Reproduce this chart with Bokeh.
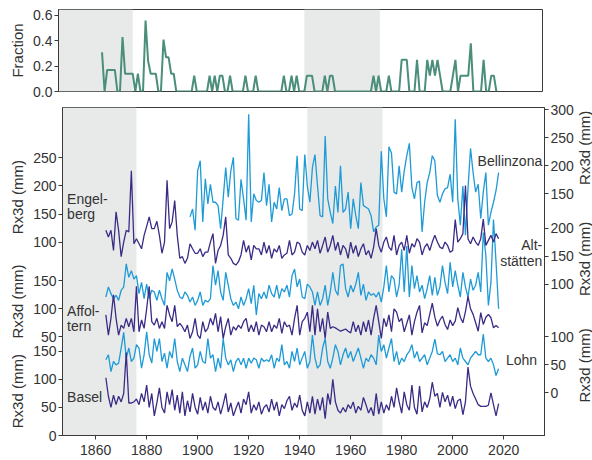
import math
from bokeh.plotting import figure
from bokeh.models import Range1d, LinearAxis, FixedTicker, BoxAnnotation, Label, NumeralTickFormatter
from bokeh.core.properties import value
from bokeh.layouts import column, row
from bokeh.embed import file_html
from bokeh.resources import INLINE

# ---------------- data ----------------
FIRST_YEAR = 1864
BELL_FIRST_YEAR = 1897

fraction = [0.31, 0, 0.17, 0.17, 0.17, 0.17, 0, 0, 0.43, 0.14,
            0.14, 0.14, 0.14, 0, 0.14, 0, 0, 0.56, 0.24, 0.14,
            0.14, 0.14, 0, 0, 0.41, 0.27, 0.27, 0.14, 0.14, 0,
            0, 0, 0, 0, 0, 0, 0.125, 0, 0, 0,
            0, 0, 0.125, 0, 0.125, 0, 0.125, 0.125, 0, 0,
            0.125, 0, 0, 0, 0, 0, 0.125, 0, 0, 0,
            0.125, 0, 0, 0, 0, 0, 0, 0, 0, 0,
            0, 0.125, 0, 0, 0.125, 0, 0.125, 0, 0, 0,
            0.125, 0.125, 0.125, 0, 0, 0, 0, 0.125, 0, 0.125,
            0.125, 0, 0, 0, 0, 0, 0, 0, 0, 0,
            0, 0, 0, 0, 0, 0, 0.125, 0, 0.125, 0,
            0, 0, 0.125, 0, 0, 0, 0, 0.25, 0.25, 0.25,
            0, 0, 0, 0.25, 0, 0, 0, 0.25, 0.125, 0.25,
            0.125, 0.25, 0.125, 0, 0, 0, 0, 0.125, 0.25, 0,
            0.125, 0.125, 0.125, 0.125, 0.38, 0, 0, 0, 0, 0.25,
            0, 0, 0.125, 0.125, 0]

bellinzona = [109, 123, 85, 191, 209, 100, 177, 132, 167, 135,
              135, 129, 88, 141, 197, 144, 191, 215, 106, 103,
              176, 141, 103, 292, 100, 150, 138, 135, 138, 188,
              129, 167, 100, 135, 123, 161, 120, 141, 141, 111,
              114, 150, 218, 123, 120, 220, 164, 135, 197, 220,
              164, 111, 109, 253, 141, 117, 97, 164, 117, 200,
              117, 123, 153, 88, 141, 111, 88, 170, 129, 126,
              123, 111, 82, 91, 94, 226, 141, 109, 234, 223,
              153, 150, 200, 153, 191, 218, 240, 161, 141, 170,
              173, 82, 135, 170, 188, 218, 209, 147, 135, 150,
              159, 161, 185, 135, 283, 141, 94, 164, 76, 159,
              231, 188, 153, 167, 106, 153, 188, 94, 117, 135,
              156, 188]

engelberg = [121, 109, 121, 85, 154, 121, 74, 100, 121, 118,
             227, 97, 106, 97, 88, 112, 128, 145, 124, 124,
             137, 112, 80, 100, 210, 124, 136, 174, 112, 71,
             74, 62, 71, 97, 88, 80, 80, 88, 74, 82,
             82, 100, 115, 62, 85, 94, 112, 145, 77, 71,
             62, 59, 65, 77, 103, 82, 94, 68, 94, 88,
             88, 77, 100, 80, 94, 71, 88, 82, 94, 71,
             77, 80, 103, 77, 82, 100, 97, 82,
             77, 94, 85, 100, 88, 103, 80, 94, 109, 82,
             94, 112, 85, 100, 77, 94, 88, 71, 100, 80,
             94, 74, 88, 97, 77, 85, 71, 91, 124, 94,
             82, 100, 109, 91, 85, 112, 77, 94, 100, 85,
             112, 80, 97, 91, 106, 100, 77, 91, 97, 85,
             100, 112, 100, 91, 88, 100, 94, 82, 85, 140,
             100, 106, 115, 201, 106, 97, 109, 100, 94, 106,
             141, 94, 103, 112, 100, 115, 106]

altstaetten = [77, 95, 83, 74, 80, 71, 89, 95, 136, 112,
               124, 109, 115, 83, 103, 74, 100, 74, 89, 86,
               71, 89, 74, 62, 121, 106, 127, 109, 89, 77,
               74, 86, 80, 68, 77, 62, 71, 86, 62, 71,
               68, 74, 133, 98, 124, 86, 71, 121, 98, 74,
               62, 68, 56, 77, 62, 74, 92, 65, 98, 45,
               83, 74, 86, 74, 98, 83, 77, 98, 74, 92,
               86, 98, 77, 115, 127, 95, 109, 77,
               74, 100, 95, 86, 62, 86, 62, 74, 98, 62,
               86, 121, 89, 80, 133, 136, 92, 77, 98, 86,
               100, 121, 80, 100, 71, 86, 80, 83, 77, 86,
               68, 95, 133, 86, 115, 109, 77, 98, 162, 86,
               168, 77, 133, 92, 115, 86, 98, 74, 92, 115,
               80, 112, 80, 95, 133, 103, 83, 139, 95, 124,
               98, 77, 121, 95, 77, 109, 89, 98, 121, 86,
               192, 151, 62, 103, 215, 139, 56]

affoltern = [89, 53, 83, 125, 83, 53, 71, 65, 83, 68,
             83, 59, 140, 59, 80, 65, 100, 140, 77, 71,
             83, 65, 77, 65, 106, 89, 77, 106, 68, 74,
             68, 59, 71, 47, 59, 83, 53, 47, 77, 59,
             65, 83, 71, 92, 59, 86, 47, 68, 83, 53,
             68, 62, 71, 65, 77, 83, 59, 71, 59, 77,
             53, 71, 68, 59, 77, 59, 71, 65, 83, 56,
             77, 68, 71, 53, 83, 106, 53, 77,
             83, 94, 59, 106, 53, 100, 59, 83, 47, 94,
             65, 68, 66, 63, 60, 62, 64, 60, 57, 77,
             59, 71, 53, 77, 59, 80, 53, 83, 106, 77,
             47, 83, 68, 89, 59, 100, 94, 77, 83, 59,
             74, 89, 53, 77, 94, 106, 57, 75, 70, 90,
             110, 85, 69, 80, 87, 72, 63, 80, 70, 78,
             102, 85, 75, 95, 122, 100, 90, 75, 60, 93,
             72, 85, 90, 84, 66, 70, 66]

lohn = [59, 68, 38, 56, 50, 53, 80, 108, 62, 80,
        56, 62, 86, 80, 44, 68, 109, 68, 53, 97,
        74, 97, 56, 71, 44, 74, 62, 97, 56, 38,
        62, 50, 38, 65, 80, 44, 50, 74, 56, 53,
        97, 62, 68, 38, 62, 44, 97, 62, 50, 59,
        38, 56, 62, 50, 62, 44, 62, 53, 62, 59,
        44, 62, 56, 59, 56, 68, 44, 62, 56, 86,
        50, 56, 44, 74, 56, 80, 50, 62,
        74, 44, 56, 103, 62, 44, 50, 80, 97, 56,
        44, 62, 86, 74, 50, 68, 80, 62, 74, 56,
        68, 80, 62, 44, 62, 56, 68, 62, 50, 103,
        74, 86, 62, 80, 97, 56, 74, 50, 62, 56,
        68, 74, 86, 62, 74, 56, 62, 68, 50, 62,
        74, 96, 70, 68, 74, 56, 62, 68, 56, 62,
        50, 80, 62, 56, 50, 62, 68, 74, 68, 68,
        105, 62, 56, 62, 50, 31, 43]

basel = [103, 70, 50, 72, 55, 70, 60, 75, 148, 58,
         58, 60, 65, 55, 75, 60, 90, 50, 75, 35,
         58, 85, 50, 40, 78, 55, 82, 45, 72, 40,
         78, 35, 62, 42, 75, 50, 38, 68, 45, 60,
         40, 70, 50, 45, 60, 38, 55, 75, 42, 58,
         35, 48, 60, 40, 65, 55, 78, 40, 55, 45,
         60, 38, 50, 55, 42, 65, 45, 60, 35, 55,
         48, 62, 70, 45, 58, 50, 72, 45,
         35, 60, 40, 70, 38, 65, 45, 68, 30, 75,
         55, 100, 60, 45, 40, 50, 42, 55, 48, 60,
         40, 52, 45, 68, 55, 40, 50, 35, 75, 38,
         60, 40, 55, 45, 70, 50, 85, 60, 40, 78,
         55, 45, 90, 50, 38, 88, 42, 60, 50, 65,
         95, 70, 75, 50, 77, 60, 72, 52, 70, 48,
         62, 65, 37, 60, 122, 88, 75, 65, 55, 52,
         52, 52, 54, 76, 55, 35, 57]

shade_start = [1847, 1943]
shade_end = [1876, 1972.5]

x_ticks = [1860, 1880, 1900, 1920, 1940, 1960, 1980, 2000, 2020]
frac_ticks = [0.0, 0.2, 0.4, 0.6]

left_axes = {"Engelberg": [100, 150, 200, 250], "Affoltern": [50, 100, 150], "Basel": [0, 50, 100, 150]}
right_axes = {"Bellinzona": [150, 200, 250, 300], "Altstätten": [100, 150, 200], "Lohn": [0, 50, 100]}

# ---------------- layout / style ----------------
offsets = {"Basel": 0, "Lohn": 76, "Affoltern": 126, "Altstätten": 170, "Engelberg": 245, "Bellinzona": 281}
left_title_y = [425, 239, 79]      # stacked positions of the left "Rx3d (mm)" titles
right_title_y = [513, 315, 125]    # stacked positions of the right "Rx3d (mm)" titles

FONT = "Liberation Sans"
TXT = "#333333"
AX = "#3a3a3a"
PURPLE = "#3a2b85"
BLUE = "#1e9ad6"
TEAL = "#4a8e7b"
SHADE = "#e8eaea"

x_range = Range1d(1847, 2036)
y_range = Range1d(0, 585)


def style_axis(ax):
    ax.axis_line_color = AX
    ax.major_tick_line_color = AX
    ax.minor_tick_line_color = None
    ax.major_tick_in = 0
    ax.major_tick_out = 4
    ax.major_label_text_font = FONT
    ax.major_label_text_font_size = "14px"
    ax.major_label_text_color = TXT
    ax.major_label_standoff = 2


def add_shading(fig):
    for s, e in zip(shade_start, shade_end):
        fig.add_layout(BoxAnnotation(left=s, right=e, fill_color=SHADE, fill_alpha=1.0,
                                     line_alpha=0, level="underlay"))


# ---------------- top panel ----------------
top = figure(width=592, height=99, x_range=x_range, y_range=Range1d(0, 0.647),
             output_backend="svg", toolbar_location=None, x_axis_location=None,
             min_border_left=58, min_border_right=50, min_border_top=9, min_border_bottom=8)
top.grid.visible = False
top.outline_line_color = AX
add_shading(top)
style_axis(top.yaxis[0])
top.yaxis.ticker = FixedTicker(ticks=frac_ticks)
top.yaxis.formatter = NumeralTickFormatter(format="0.0")
top.yaxis.axis_label = "Fraction"
top.yaxis.axis_label_text_font = FONT
top.yaxis.axis_label_text_font_size = "15px"
top.yaxis.axis_label_text_font_style = "normal"
top.yaxis.axis_label_text_color = TXT
top.yaxis.axis_label_standoff = 4
years_f = list(range(FIRST_YEAR, FIRST_YEAR + len(fraction)))
top.line(years_f, fraction, line_color=TEAL, line_width=2)

# ---------------- bottom panel ----------------
BOT_H = 361
common = dict(height=BOT_H, y_range=y_range, output_backend="svg", toolbar_location=None,
              min_border_top=8, min_border_bottom=25)

p = figure(width=546, x_range=x_range, min_border_left=30, min_border_right=32, **common)
p.grid.visible = False
p.outline_line_color = AX
add_shading(p)

series = [
    ("Bellinzona", bellinzona, BELL_FIRST_YEAR, BLUE),
    ("Altstätten", altstaetten, FIRST_YEAR, BLUE),
    ("Lohn", lohn, FIRST_YEAR, BLUE),
    ("Engelberg", engelberg, FIRST_YEAR, PURPLE),
    ("Affoltern", affoltern, FIRST_YEAR, PURPLE),
    ("Basel", basel, FIRST_YEAR, PURPLE),
]
for name, vals, y0, col in series:
    yrs = list(range(y0, y0 + len(vals)))
    off = offsets[name]
    p.line(yrs, [v + off for v in vals], line_color=col, line_width=1.3)

style_axis(p.xaxis[0])
p.xaxis.ticker = FixedTicker(ticks=x_ticks)
p.xaxis.major_label_standoff = 5

left_map = {}
for name, vals in left_axes.items():
    for v in vals:
        left_map[v + offsets[name]] = str(v)
style_axis(p.yaxis[0])
p.yaxis.ticker = FixedTicker(ticks=sorted(left_map))
p.yaxis.major_label_overrides = left_map

right_map = {}
for name, vals in right_axes.items():
    for v in vals:
        right_map[v + offsets[name]] = str(v)
rax = LinearAxis(ticker=FixedTicker(ticks=sorted(right_map)), major_label_overrides=right_map)
style_axis(rax)
p.add_layout(rax, "right")

station_labels = [
    ("Engel-", 1848.8, 421, "left"), ("berg", 1848.8, 395, "left"),
    ("Affol-", 1848.8, 222, "left"), ("tern", 1848.8, 195, "left"),
    ("Basel", 1848.8, 68, "left"),
    ("Bellinzona", 2035.1, 490, "right"),
    ("Alt-", 2035.1, 340, "right"), ("stätten", 2035.1, 312, "right"),
    ("Lohn", 2033.1, 135, "right"),
]
for t, x, y, al in station_labels:
    p.add_layout(Label(x=x, y=y, text=t, text_align=al, text_baseline="middle",
                       text_font=FONT, text_font_size="14px", text_color=TXT))


def title_strip(width, ys, xr):
    f = figure(width=width, x_range=xr, x_axis_location=None, y_axis_location=None,
               min_border_left=0, min_border_right=0, **common)
    f.grid.visible = False
    f.outline_line_color = None
    f.text(x=[0.5] * len(ys), y=ys, text=["Rx3d (mm)"] * len(ys), angle=math.pi / 2,
           text_align="center", text_baseline="middle", text_font=value(FONT),
           text_font_size=value("15px"), text_color=TXT)
    return f


lstrip = title_strip(30, left_title_y, Range1d(-2 / 30, 28 / 30))
rstrip = title_strip(16, right_title_y, Range1d(0, 1))

layout = column(top, row(lstrip, p, rstrip, spacing=0), spacing=0)
open("out.html", "w").write(file_html(layout, INLINE))
